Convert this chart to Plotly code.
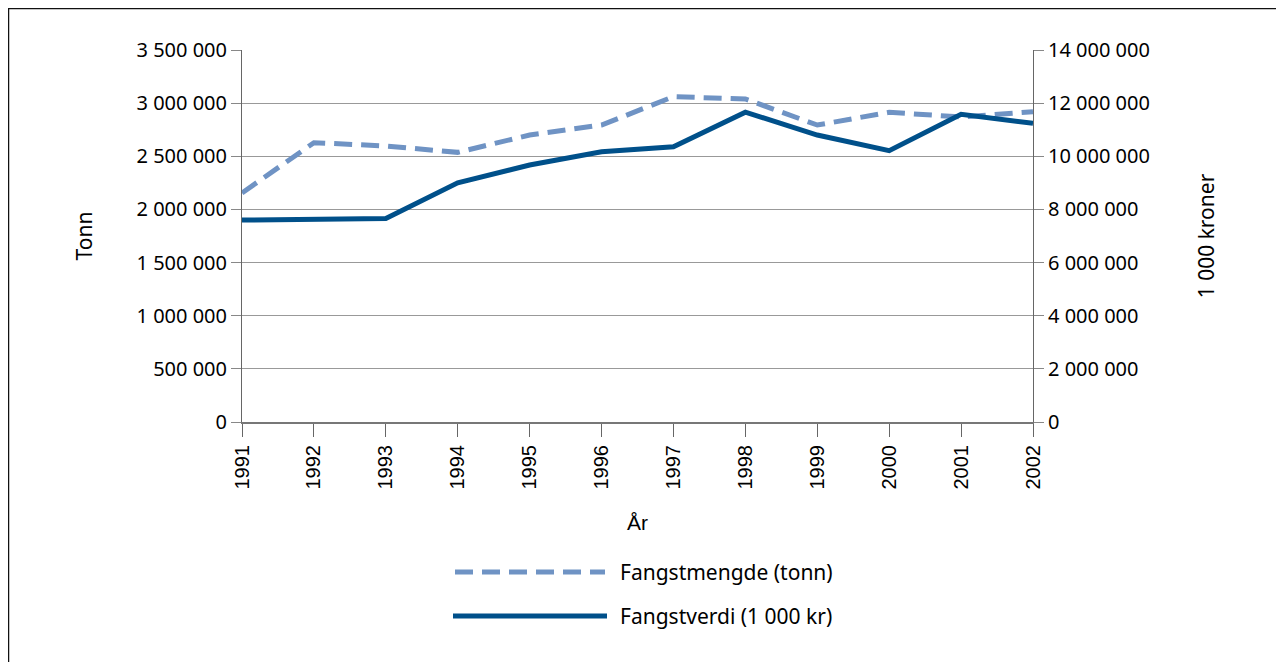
import plotly.graph_objects as go

years = [1991, 1992, 1993, 1994, 1995, 1996, 1997, 1998, 1999, 2000, 2001, 2002]
year_labels = [str(y) for y in years]
fangstmengde_tonn = [2155000, 2628000, 2597000, 2537000, 2700000, 2794000,
                     3061000, 3039000, 2794000, 2914000, 2870000, 2919000]
fangstverdi_1000kr = [7600000, 7640000, 7660000, 9000000, 9670000, 10170000,
                      10360000, 11660000, 10800000, 10210000, 11580000, 11240000]
left_ticks = [0, 500000, 1000000, 1500000, 2000000, 2500000, 3000000, 3500000]
right_ticks = [0, 2000000, 4000000, 6000000, 8000000, 10000000, 12000000, 14000000]

name_mengde = "Fangstmengde (tonn)"
name_verdi = "Fangstverdi (1 000 kr)"
col_mengde = "#6f93c4"
col_verdi = "#00508a"

W, H = 1284, 662
OFF = 8  # page body margin
SX0, SX1, SY0, SY1 = 242, 1033, 50, 422  # plot area in screen px
L, T = SX0 - OFF, SY0 - OFF
pw, ph = SX1 - SX0, SY1 - SY0
R, B = W - L - pw, H - T - ph

def px(xs):
    return (xs - SX0) / pw

def py(ys):
    return (SY1 - ys) / ph

fig = go.Figure()
fig.add_trace(go.Scatter(x=years, y=fangstmengde_tonn, mode="lines", name=name_mengde,
                         line=dict(color=col_mengde, width=5, dash="18px,9px"),
                         yaxis="y", showlegend=False))
fig.add_trace(go.Scatter(x=years, y=fangstverdi_1000kr, mode="lines", name=name_verdi,
                         line=dict(color=col_verdi, width=5),
                         yaxis="y2", showlegend=False))

tick_font = dict(family="Noto Sans, Open Sans, sans-serif", size=20, color="#000")

fig.update_layout(
    width=W, height=H,
    margin=dict(l=L, r=R, t=T, b=B, autoexpand=False),
    paper_bgcolor="white", plot_bgcolor="white",
    separators=", ",
    xaxis=dict(range=[1991, 2002], tickmode="array", tickvals=years, ticktext=year_labels,
               tickangle=-90, tickfont=dict(family="Liberation Sans, Arial, sans-serif", size=20, color="#000"),
               ticks="outside", ticklen=13, tickcolor="#666", showgrid=False,
               showline=True, linecolor="#777", linewidth=2, zeroline=False,
               title=dict(text="År", font=dict(family="Liberation Sans, Arial, sans-serif", size=21, color="#000"),
                          standoff=27)),
    yaxis=dict(range=[0, 3500000], tickmode="array", tickvals=left_ticks, tickformat=",d",
               tickfont=tick_font, ticks="outside", ticklen=10, tickcolor="#888",
               showgrid=True, gridcolor="#999", gridwidth=1,
               showline=True, linecolor="#666", linewidth=1, zeroline=False,
               title=dict(text="Tonn", font=dict(family="Noto Sans, sans-serif", size=21, color="#000"),
                          standoff=38)),
    yaxis2=dict(range=[0, 14000000], tickmode="array", tickvals=right_ticks, tickformat=",d",
                tickfont=tick_font, ticks="outside", ticklen=10, tickcolor="#888",
                overlaying="y", side="right", showgrid=False,
                showline=True, linecolor="#666", linewidth=1, zeroline=False,
                title=dict(text="1 000 kroner", font=dict(family="Noto Sans, sans-serif", size=21, color="#000"),
                           standoff=50)),
)

shapes = [
    dict(type="rect", xref="paper", yref="paper", x0=px(8), x1=px(1280), y0=py(700), y1=py(8),
         line=dict(color="#111", width=2.5), fillcolor="rgba(0,0,0,0)", layer="below"),
    dict(type="line", xref="paper", yref="paper", x0=px(455), x1=px(605), y0=py(572), y1=py(572),
         line=dict(color=col_mengde, width=5, dash="18px,9px")),
    dict(type="line", xref="paper", yref="paper", x0=px(453), x1=px(607), y0=py(616), y1=py(616),
         line=dict(color=col_verdi, width=5)),
]
annotations = [
    dict(xref="paper", yref="paper", x=px(618), y=py(572), text=name_mengde, showarrow=False,
         xanchor="left", yanchor="middle", font=dict(family="Noto Sans, sans-serif", size=21, color="#000")),
    dict(xref="paper", yref="paper", x=px(618), y=py(616), text=name_verdi, showarrow=False,
         xanchor="left", yanchor="middle", font=dict(family="Noto Sans, sans-serif", size=21, color="#000")),
]
fig.update_layout(shapes=shapes, annotations=annotations)

fig.write_html("out.html")
